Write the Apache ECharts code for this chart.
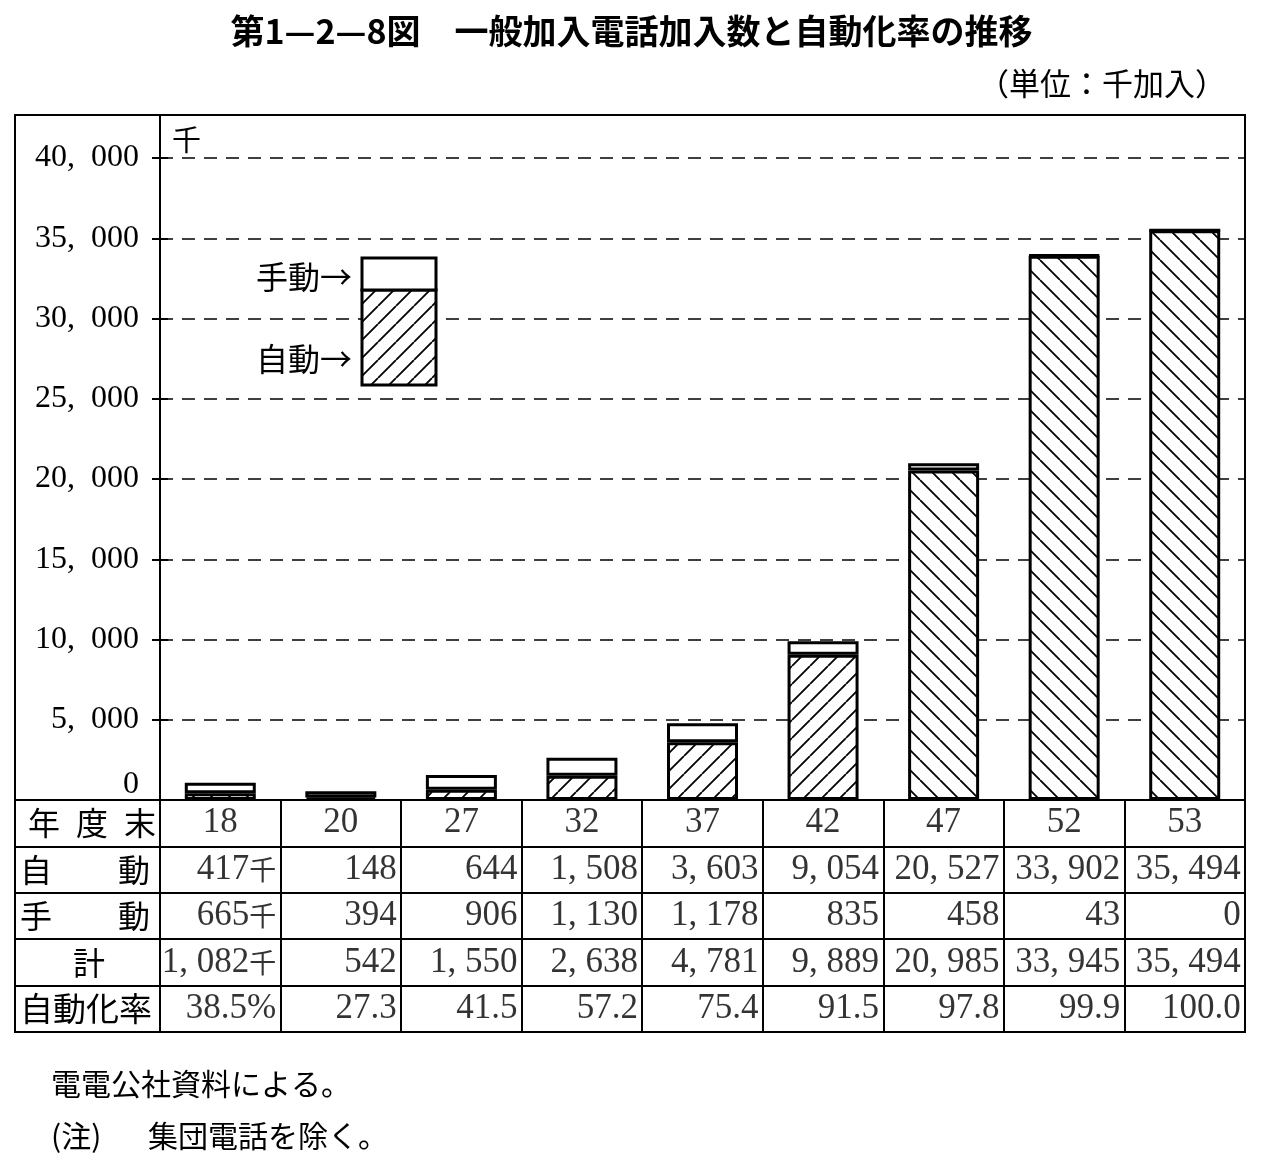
<!DOCTYPE html>
<html><head><meta charset="utf-8">
<script src="https://cdn.jsdelivr.net/npm/echarts@6/dist/echarts.min.js"></script>
<style>html,body{margin:0;padding:0;background:#fff}#c{width:1263px;height:1165px}</style>
</head><body><div id="c"></div>
<script>
// ---- data ----
const years = ['18','20','27','32','37','42','47','52','53'];
const automatic = [417,148,644,1508,3603,9054,20527,33902,35494];
const manual = [665,394,906,1130,1178,835,458,43,0];
const totals = [1082,542,1550,2638,4781,9889,20985,33945,35494];
const autoRates = [38.5,27.3,41.5,57.2,75.4,91.5,97.8,99.9,100.0];
const hatchDirection = ['/','/','/','/','/','/','\\','\\','\\'];
const rowHeaders = ['年度末','自動','手動','計','自動化率'];
const yMin = 0, yMax = 40000, yStep = 5000;

const SERIF = "'Liberation Serif','Noto Sans CJK JP'";
const CJK = "'Noto Sans CJK JP'";

function hatch(dir, size, lw){
  const c = document.createElement('canvas'); c.width = size; c.height = size;
  const g = c.getContext('2d'); g.fillStyle = '#fff'; g.fillRect(0,0,size,size);
  g.strokeStyle = '#000'; g.lineWidth = lw; g.beginPath();
  for (const d of [-size, 0, size]) {
    if (dir === '/') { g.moveTo(d, size); g.lineTo(d + size, 0); }
    else { g.moveTo(d, 0); g.lineTo(d + size, size); }
  }
  g.stroke();
  return {image: c, repeat: 'repeat'};
}
const patFwd = hatch('/', 18, 1.8);
const patBack = hatch('\\', 20, 1.8);

function fmtAxis(n){ return n.toLocaleString('en-US').replace(/,/g, ',\u2002'); }
function fmtCell(n){ return n.toLocaleString('en-US').replace(/,/g, ',\u2005'); }

// table cells (rich text strings)
const unitK = (s, i) => '{n|' + s + '}' + (i === 0 ? '{k|千}' : '');
const tableRows = [
  years.map(y => y),
  automatic.map((v,i) => unitK(fmtCell(v), i)),
  manual.map((v,i) => unitK(fmtCell(v), i)),
  totals.map((v,i) => unitK(fmtCell(v), i)),
  autoRates.map((v,i) => '{n|' + v.toFixed(1) + (i===0 ? '%' : '') + '}')
];
const yearCells = tableRows[0].map((t,i) => ({name: t, value: [i, 0]}));
const valueCells = [];
for (let r = 1; r < tableRows.length; r++) tableRows[r].forEach((t,i) => valueCells.push({name: t, value: [i, r]}));

const headerFmt = {
  '年度末': '{s|年}{s|度}{s|末}',
  '自動': '{l|自}{r|動}',
  '手動': '{l|手}{r|動}',
  '計': '{m|計}',
  '自動化率': '{w|自動化率}'
};
const hs = {fontSize: 32, fontFamily: CJK, color: '#000'};

const chart = echarts.init(document.getElementById('c'), null, {renderer: 'canvas'});
const blk = {color: '#000', width: 2};
chart.setOption({
  backgroundColor: '#fff',
  animation: false,
  title: [
    {text: '第1—2—8図　一般加入電話加入数と自動化率の推移', left: 'center', top: 9,
     textStyle: {fontSize: 34, fontWeight: 'bold', fontFamily: CJK, color: '#000'}},
    {text: '（単位：千加入）', right: 32, top: 63, textStyle: {fontSize: 31, fontWeight: 'normal', fontFamily: CJK, color: '#000'}},
    {text: '電電公社資料による。', left: 46, top: 1064, textStyle: {fontSize: 30, fontWeight: 'normal', fontFamily: CJK, color: '#000'}},
    {text: '(注)', left: 46, top: 1116, textStyle: {fontSize: 30, fontWeight: 'normal', fontFamily: CJK, color: '#000'}},
    {text: '集団電話を除く。', left: 143, top: 1116, textStyle: {fontSize: 30, fontWeight: 'normal', fontFamily: CJK, color: '#000'}}
  ],
  grid: [
    {left: 160, top: 158, width: 1085, height: 642, show: false},
    {left: 160, top: 800, width: 1085, height: 232, show: true, borderColor: '#000', borderWidth: 2, backgroundColor: 'transparent'},
    {left: 15, top: 800, width: 145, height: 232, show: true, borderColor: '#000', borderWidth: 2, backgroundColor: 'transparent'},
    {left: 15, top: 115, width: 1230, height: 917, show: true, borderColor: '#000', borderWidth: 2, backgroundColor: 'transparent'}
  ],
  xAxis: [
    {gridIndex: 0, type: 'category', data: years, boundaryGap: true,
     axisLine: {show: true, lineStyle: blk}, axisTick: {show: false}, axisLabel: {show: false}, splitLine: {show: false}},
    {gridIndex: 1, type: 'category', data: years, boundaryGap: true,
     axisLine: {show: false}, axisTick: {show: false}, axisLabel: {show: false}, splitLine: {show: true, lineStyle: blk}},
    {gridIndex: 2, type: 'category', data: [''], show: false},
    {gridIndex: 3, type: 'category', data: [''], show: false}
  ],
  yAxis: [
    {gridIndex: 0, type: 'value', position: 'left', min: yMin, max: yMax, interval: yStep,
     name: '千', nameLocation: 'end', nameGap: 4,
     nameTextStyle: {align: 'left', padding: [0,0,0,12], fontSize: 29, fontFamily: CJK, color: '#000'},
     axisLine: {show: false}, axisTick: {show: true, length: 8, lineStyle: blk},
     axisLabel: {margin: 21, color: '#000', fontSize: 32, fontFamily: SERIF,
       formatter: v => v === 0 ? '{z|0}' : fmtAxis(v),
       rich: {z: {fontSize: 32, fontFamily: SERIF, color: '#000', padding: [0,0,30,0]}}},
     splitLine: {show: true, lineStyle: {color: '#000', width: 1.5, type: [13, 9]}}},
    {gridIndex: 1, type: 'category', data: rowHeaders, inverse: true,
     axisLine: {show: false}, axisTick: {show: false}, axisLabel: {show: false},
     splitLine: {show: true, lineStyle: blk}},
    {gridIndex: 2, type: 'category', data: rowHeaders, inverse: true,
     axisLine: {show: false}, axisTick: {show: false},
     axisLabel: {inside: true, margin: 5, formatter: v => headerFmt[v],
       rich: {
         s: Object.assign({width: 48, align: 'center'}, hs),
         l: Object.assign({width: 98, align: 'left'}, hs),
         r: Object.assign({width: 32, align: 'left'}, hs),
         m: Object.assign({width: 138, align: 'center'}, hs),
         w: Object.assign({}, hs, {fontSize: 33})
       }},
     splitLine: {show: true, lineStyle: blk}},
    {gridIndex: 3, type: 'value', position: 'left', offset: -145, min: 0, max: 1,
     axisLine: {show: true, lineStyle: blk}, axisTick: {show: false}, axisLabel: {show: false}, splitLine: {show: false}},
    {gridIndex: 0, type: 'value', position: 'left', min: yMin, max: yMax, interval: yStep,
     axisLine: {show: false}, axisTick: {show: true, inside: true, length: 8, lineStyle: blk},
     axisLabel: {show: false}, splitLine: {show: false}}
  ],
  graphic: [
    {type: 'rect', shape: {x: 362, y: 290, width: 74, height: 95}, style: {fill: patFwd, stroke: '#000', lineWidth: 3}, z: 10},
    {type: 'rect', shape: {x: 362, y: 258, width: 74, height: 32}, style: {fill: '#fff', stroke: '#000', lineWidth: 3}, z: 10},
    {type: 'text', x: 352, y: 277, style: {text: '手動→', fill: '#000', font: "32px 'Noto Sans CJK JP'", textAlign: 'right', textVerticalAlign: 'middle'}, z: 10},
    {type: 'text', x: 352, y: 359, style: {text: '自動→', fill: '#000', font: "32px 'Noto Sans CJK JP'", textAlign: 'right', textVerticalAlign: 'middle'}, z: 10}
  ],
  series: [
    {type: 'bar', name: '自動', stack: 'total', xAxisIndex: 0, yAxisIndex: 0, barWidth: 71,
     itemStyle: {borderColor: '#000', borderWidth: 3},
     data: automatic.map((v,i) => ({value: v, itemStyle: {color: hatchDirection[i] === '/' ? patFwd : patBack}}))},
    {type: 'bar', name: '手動', stack: 'total', xAxisIndex: 0, yAxisIndex: 0, barWidth: 71,
     itemStyle: {color: '#fff', borderColor: '#000', borderWidth: 3},
     data: manual},
    {type: 'scatter', xAxisIndex: 1, yAxisIndex: 1, symbolSize: 0, data: yearCells,
     label: {show: true, position: 'inside', formatter: p => '{c|' + p.name + '}',
       rich: {c: {width: 112, align: 'center', fontSize: 35, fontFamily: SERIF, color: '#000'}}}},
    {type: 'scatter', xAxisIndex: 1, yAxisIndex: 1, symbolSize: 0, data: valueCells,
     label: {show: true, position: 'inside', align: 'right', verticalAlign: 'middle', offset: [56, 0],
       formatter: p => p.name,
       rich: {
         n: {fontSize: 35, fontFamily: SERIF, color: '#000'},
         k: {fontSize: 27, fontFamily: CJK, color: '#000'}
       }}}
  ]
});
</script>
</body></html>
